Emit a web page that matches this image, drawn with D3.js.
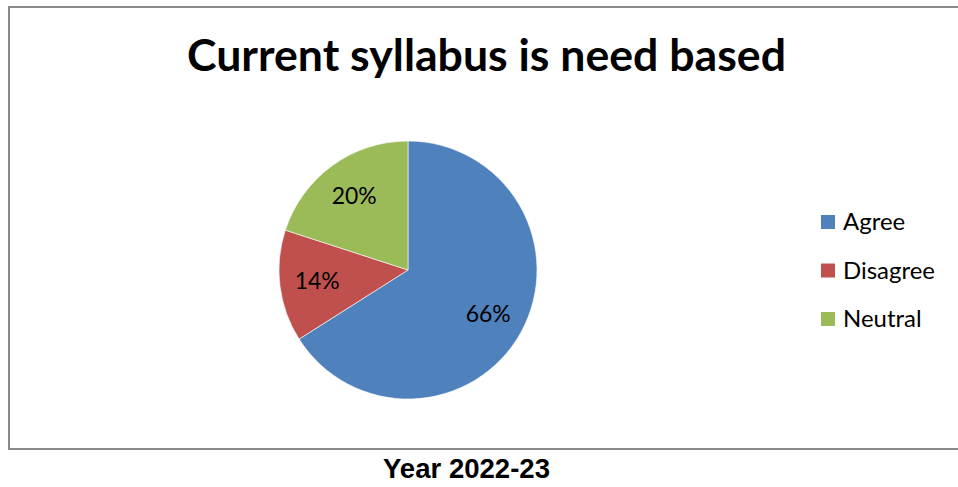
<!DOCTYPE html>
<html>
<head>
<meta charset="utf-8">
<script src="https://cdn.jsdelivr.net/npm/d3@7"></script>
<style>
  html, body { margin: 0; padding: 0; background: #fff; }
  svg { display: block; }
</style>
</head>
<body>
<svg id="chart" width="958" height="487"></svg>
<script>
const categories = ["Agree", "Disagree", "Neutral"];
const values = [66, 14, 20];
const colors = ["#4F81BD", "#C0504D", "#9BBB59"];
const title = "Current syllabus is need based";
const caption = "Year 2022-23";

const svg = d3.select("#chart");

// chart frame
svg.append("rect")
  .attr("x", 9).attr("y", 7)
  .attr("width", 960).attr("height", 442)
  .attr("fill", "#fff")
  .attr("stroke", "#8a8a8a")
  .attr("stroke-width", 2);

function fitText(sel, targetWidth) {
  const fs = parseFloat(sel.attr("font-size"));
  const w = sel.node().getComputedTextLength();
  if (w > 0) sel.attr("font-size", (fs * targetWidth / w).toFixed(2));
  return sel;
}

const bodyFont = "Lato, 'Open Sans', sans-serif";

// title
const t = svg.append("text")
  .attr("x", 486.5).attr("y", 71)
  .attr("text-anchor", "middle")
  .attr("font-family", bodyFont)
  .attr("font-weight", "bold")
  .attr("font-size", 44)
  .attr("fill", "#000")
  .text(title);
fitText(t, 599);

// pie
const cx = 408, cy = 270, r = 129;
const pie = d3.pie().sort(null).value(d => d)(values);
const arc = d3.arc().innerRadius(0).outerRadius(r);
const labelArc = d3.arc().innerRadius(r * 0.71).outerRadius(r * 0.71);

const g = svg.append("g").attr("transform", `translate(${cx},${cy})`);
g.selectAll("path.slice")
  .data(pie)
  .join("path")
  .attr("class", "slice")
  .attr("d", arc)
  .attr("fill", (d, i) => colors[i])
  .attr("stroke", "#ffffff")
  .attr("stroke-width", 0.6);

const total = d3.sum(values);
g.selectAll("text.lbl")
  .data(pie)
  .join("text")
  .attr("class", "lbl")
  .attr("x", d => labelArc.centroid(d)[0])
  .attr("y", d => labelArc.centroid(d)[1] + 8)
  .attr("text-anchor", "middle")
  .attr("font-family", bodyFont)
  .attr("font-size", 24)
  .attr("fill", "#000")
  .text(d => Math.round(d.data / total * 100) + "%")
  .each(function() { fitText(d3.select(this), 45); });

// legend
const legendY = d3.scalePoint().domain(categories).range([222, 319]);
const lg = svg.append("g");
const items = lg.selectAll("g.item")
  .data(categories)
  .join("g")
  .attr("class", "item")
  .attr("transform", d => `translate(0,${legendY(d)})`);
items.append("rect")
  .attr("x", 821).attr("y", -7)
  .attr("width", 14).attr("height", 14)
  .attr("fill", (d, i) => colors[i]);
const ltext = items.append("text")
  .attr("x", 843).attr("y", 8)
  .attr("font-family", bodyFont)
  .attr("font-size", 24)
  .attr("fill", "#000")
  .text(d => d);
const longest = ltext.filter(d => d === "Disagree");
fitText(longest, 92);
ltext.attr("font-size", longest.attr("font-size"));

// caption
const cap = svg.append("text")
  .attr("x", 466.5).attr("y", 478)
  .attr("text-anchor", "middle")
  .attr("font-family", "'Liberation Sans', Arial, sans-serif")
  .attr("font-weight", "bold")
  .attr("font-size", 27)
  .attr("fill", "#000")
  .text(caption);
fitText(cap, 167);
</script>
</body>
</html>
